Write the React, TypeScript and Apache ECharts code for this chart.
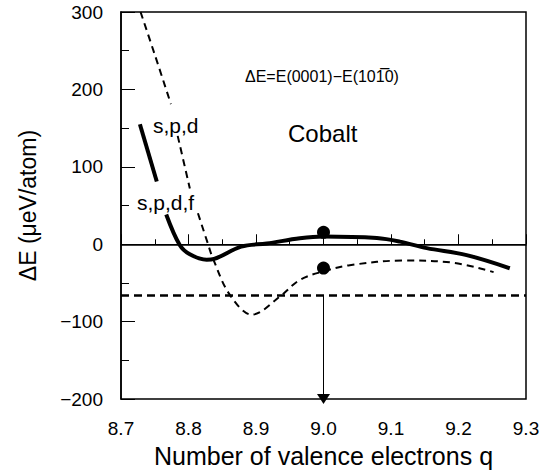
import React, { useEffect, useRef } from "react";
import * as echarts from "echarts";

// x ticks / y ticks
const xTicks = [8.7, 8.8, 8.9, 9.0, 9.1, 9.2, 9.3];
const yTicks = [-200, -100, 0, 100, 200, 300];

// s,p,d,f (solid thick) curve, two pieces split by its label
const spdfUpper: [number, number][] = [
  [8.728, 155],
  [8.753, 81],
];
const spdfLower: [number, number][] = [
  [8.767, 38.5],
  [8.787, -1],
  [8.802, -13],
  [8.827, -20],
  [8.838, -19],
  [8.878, -3],
  [8.916, 1],
  [8.965, 7.7],
  [9.0, 10],
  [9.079, 8],
  [9.113, 3.4],
  [9.153, -5],
  [9.212, -14],
  [9.276, -31],
];

// s,p,d (thin dashed) curve, three pieces split by the labels
const spdTop: [number, number][] = [
  [8.729, 300],
  [8.75, 245],
  [8.774, 181],
];
const spdMid: [number, number][] = [
  [8.784, 140],
  [8.802, 72],
];
const spdLow: [number, number][] = [
  [8.814, 40],
  [8.829, 0],
  [8.836, -18],
  [8.861, -65],
  [8.894, -91],
  [8.936, -67],
  [8.965, -46],
  [9.0, -35],
  [9.039, -27],
  [9.118, -21],
  [9.193, -24],
  [9.252, -36],
];

// big dots at q = 9.0
const dots: [number, number][] = [
  [9.0, 15.4],
  [9.0, -30.8],
];

const experimentLevel = -66;
const arrowX = 9.0;

const FONT = "'Liberation Sans', Arial, sans-serif";

export default function App() {
  const ref = useRef<HTMLDivElement>(null);

  useEffect(() => {
    if (!ref.current) return;
    document.body.style.margin = "0";
    const chart = echarts.init(ref.current, null, { renderer: "svg" });

    const fmtNum = (v: number) => (v < 0 ? "\u2212" + Math.abs(v) : String(v));

    const lineSeries = (data: [number, number][], solid: boolean) => ({
      type: "line",
      data,
      smooth: 0.35,
      showSymbol: false,
      symbol: "none",
      silent: true,
      clip: true,
      lineStyle: solid
        ? { color: "#000", width: 4, type: "solid", cap: "butt", opacity: 1 }
        : { color: "#000", width: 2, type: [7, 5], opacity: 1 },
      z: solid ? 4 : 3,
    });

    chart.setOption({
      animation: false,
      backgroundColor: "#fff",
      textStyle: { fontFamily: FONT, color: "#000" },
      grid: {
        left: 121,
        top: 12,
        width: 405,
        height: 390,
        show: true,
        borderColor: "#000",
        borderWidth: 1.5,
        backgroundColor: "transparent",
      },
      xAxis: {
        type: "value",
        min: xTicks[0],
        max: xTicks[xTicks.length - 1],
        interval: 0.1,
        name: "Number of valence electrons q",
        nameLocation: "middle",
        nameGap: 36,
        nameTextStyle: { fontSize: 25, fontFamily: FONT, color: "#000" },
        axisLine: { show: true, lineStyle: { color: "#000", width: 1.5 } },
        axisTick: { show: true, inside: true, length: 10, lineStyle: { color: "#000", width: 1 } },
        minorTick: { show: true, splitNumber: 2, length: 5, lineStyle: { color: "#000", width: 1 } },
        axisLabel: {
          margin: 20,
          fontSize: 19,
          fontFamily: FONT,
          color: "#000",
          formatter: (v: number) => v.toFixed(1),
        },
        splitLine: { show: false },
      },
      yAxis: {
        type: "value",
        min: yTicks[0],
        max: yTicks[yTicks.length - 1],
        interval: 100,
        name: "\u0394E (\u03bceV/atom)",
        nameLocation: "middle",
        nameGap: 82,
        nameTextStyle: { fontSize: 23, fontFamily: FONT, color: "#000" },
        axisLine: { show: true, lineStyle: { color: "#000", width: 1.5 } },
        axisTick: { show: true, inside: true, length: 14, lineStyle: { color: "#000", width: 1 } },
        minorTick: { show: true, splitNumber: 2, length: 8, lineStyle: { color: "#000", width: 1 } },
        axisLabel: {
          margin: 18,
          fontSize: 19,
          fontFamily: FONT,
          color: "#000",
          formatter: (v: number) => fmtNum(v),
        },
        splitLine: { show: false },
      },
      series: [
        {
          type: "line",
          data: [],
          silent: true,
          markLine: {
            silent: true,
            symbol: "none",
            label: { show: false },
            animation: false,
            data: [
              {
                yAxis: 0,
                lineStyle: { color: "#000", width: 1, type: "solid" },
              },
              {
                yAxis: experimentLevel,
                lineStyle: { color: "#000", width: 2.5, type: [8, 5] },
              },
              [
                {
                  coord: [arrowX, experimentLevel],
                  symbol: "none",
                  lineStyle: { color: "#000", width: 1, type: "solid" },
                },
                { coord: [arrowX, yTicks[0]], symbol: "triangle", symbolSize: [13, 10] },
              ],
            ],
          },
        },
        lineSeries(spdTop, false),
        lineSeries(spdMid, false),
        lineSeries(spdLow, false),
        lineSeries(spdfUpper, true),
        lineSeries(spdfLower, true),
        {
          type: "scatter",
          data: dots,
          symbol: "circle",
          symbolSize: 13,
          itemStyle: { color: "#000", opacity: 1 },
          silent: true,
          z: 6,
        },
      ],
      graphic: [
        {
          type: "text",
          left: 153,
          top: 115,
          style: { text: "s,p,d", font: `21px ${FONT}`, fill: "#000" },
        },
        {
          type: "text",
          left: 137,
          top: 192,
          style: { text: "s,p,d,f", font: `21px ${FONT}`, fill: "#000" },
        },
        {
          type: "text",
          left: 288,
          top: 121,
          style: { text: "Cobalt", font: `24px ${FONT}`, fill: "#000" },
        },
        {
          type: "text",
          left: 245,
          top: 68,
          style: {
            text: "\u0394E=E(0001)\u2212E(101\u03050)",
            font: `16px ${FONT}`,
            fill: "#000",
          },
        },
      ],
    });

    return () => chart.dispose();
  }, []);

  return <div ref={ref} style={{ width: 543, height: 473 }} />;
}
